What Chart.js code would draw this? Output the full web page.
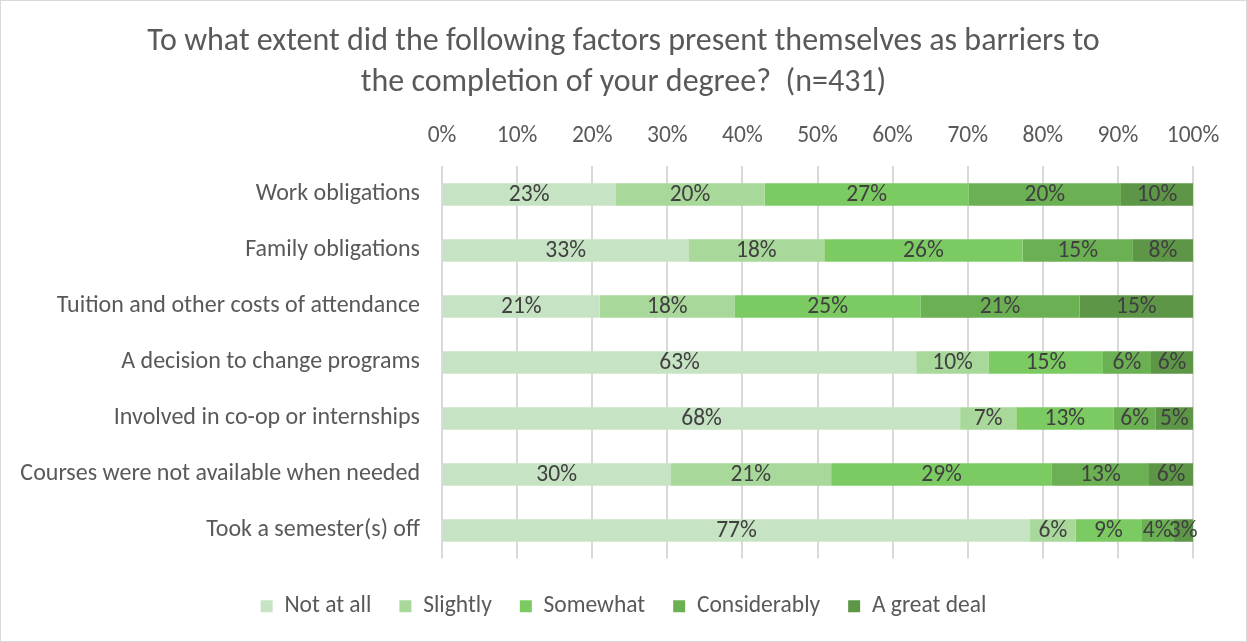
<!DOCTYPE html>
<html>
<head>
<meta charset="utf-8">
<script src="https://cdn.jsdelivr.net/npm/chart.js@4.4.1/dist/chart.umd.min.js"></script>
<style>
  html, body { margin: 0; padding: 0; background: #fff; }
  #wrap { width: 1245px; height: 640px; border: 1px solid #d9d9d9; }
</style>
</head>
<body>
<div id="wrap"><canvas id="c" width="1245" height="640"></canvas></div>
<script>
// Survey question and answer categories
const titleLines = [
  'To what extent did the following factors present themselves as barriers to',
  'the completion of your degree?  (n=431)'
];
const categories = [
  'Work obligations',
  'Family obligations',
  'Tuition and other costs of attendance',
  'A decision to change programs',
  'Involved in co-op or internships',
  'Courses were not available when needed',
  'Took a semester(s) off'
];
const seriesNames = ['Not at all', 'Slightly', 'Somewhat', 'Considerably', 'A great deal'];

// Percent of respondents per answer (rows may not add up to exactly 100)
const notAtAll     = [23.1, 32.8, 21.0, 63.2, 68.3, 30.1, 77.2];
const slightly     = [19.9, 18.1, 18.0,  9.7,  7.4, 21.2,  6.0];
const somewhat     = [27.2, 26.4, 24.7, 15.2, 12.8, 29.1,  8.6];
const considerably = [20.3, 14.7, 21.2,  6.4,  5.6, 12.8,  4.2];
const greatDeal    = [ 9.6,  8.0, 15.1,  5.6,  4.9,  5.8,  2.6];

const tickLabels = ['0%', '10%', '20%', '30%', '40%', '50%', '60%', '70%', '80%', '90%', '100%'];

const seriesColors = ['#c6e4c3', '#a9d89b', '#7ccb62', '#6bb052', '#5c9646'];

const FONT = 'Carlito, Calibri, Lato, "Open Sans", sans-serif';
const TEXT = '#595959';
const LABEL_SIZE = 23.5;

const rawSeries = [notAtAll, slightly, somewhat, considerably, greatDeal];

// 100% stacked: each row is scaled to its own total
const rowTotals = categories.map((_, j) => rawSeries.reduce((s, arr) => s + arr[j], 0));

const datasets = rawSeries.map((arr, i) => ({
  label: seriesNames[i],
  data: arr.map((v, j) => v / rowTotals[j] * 100),
  backgroundColor: seriesColors[i],
  borderWidth: 0,
  barPercentage: 0.4,
  categoryPercentage: 1.0
}));

// Percentage written in the middle of each segment
const valueLabels = {
  id: 'valueLabels',
  afterDatasetsDraw(chart) {
    const ctx = chart.ctx;
    ctx.save();
    ctx.font = LABEL_SIZE + 'px ' + FONT;
    ctx.fillStyle = '#404040';
    ctx.textAlign = 'center';
    ctx.textBaseline = 'middle';
    chart.data.datasets.forEach((ds, i) => {
      const meta = chart.getDatasetMeta(i);
      meta.data.forEach((bar, j) => {
        const p = bar.getProps(['x', 'y', 'base'], true);
        ctx.fillText(Math.round(rawSeries[i][j]) + '%', (p.x + p.base) / 2, p.y + 1);
      });
    });
    ctx.restore();
  }
};

// Title and legend are centred on the full canvas width;
// the legend row also sits a bit further below the plot
const blockPlacement = {
  id: 'blockPlacement',
  afterLayout(chart) {
    const full = chart.width;
    const tb = chart.titleBlock;
    if (tb) { tb.left = 0; tb.right = full; tb.width = full; }
    const lg = chart.legend;
    if (lg) {
      lg.left = 0; lg.right = full; lg.width = full;
      lg.top += 8; lg.bottom += 8;
    }
  }
};

new Chart(document.getElementById('c'), {
  type: 'bar',
  data: { labels: categories, datasets },
  plugins: [valueLabels, blockPlacement],
  options: {
    indexAxis: 'y',
    responsive: false,
    animation: false,
    devicePixelRatio: 1,
    layout: { padding: { top: 0, right: 53, bottom: 21, left: 0 } },
    scales: {
      x: {
        position: 'top',
        stacked: true,
        min: 0,
        max: 100,
        grid: { color: '#d9d9d9', lineWidth: 2, drawTicks: false },
        border: { display: false },
        ticks: {
          stepSize: 10,
          padding: 16,
          color: TEXT,
          font: { family: FONT, size: LABEL_SIZE },
          callback: (v) => tickLabels[Math.round(v / 10)]
        }
      },
      y: {
        stacked: true,
        grid: { display: false, drawTicks: false },
        border: { display: false },
        ticks: {
          padding: 22,
          color: TEXT,
          font: { family: FONT, size: 24 }
        },
        afterFit: (s) => { s.width = 441; }
      }
    },
    plugins: {
      title: {
        display: true,
        text: titleLines,
        color: TEXT,
        font: { family: FONT, size: 32, weight: 'normal', lineHeight: 1.27 },
        padding: { top: 21, bottom: 3 }
      },
      legend: {
        position: 'bottom',
        labels: {
          boxWidth: 12,
          boxHeight: 12,
          padding: 28,
          color: TEXT,
          font: { family: FONT, size: LABEL_SIZE }
        }
      },
      tooltip: { enabled: false }
    }
  }
});
</script>
</body>
</html>
